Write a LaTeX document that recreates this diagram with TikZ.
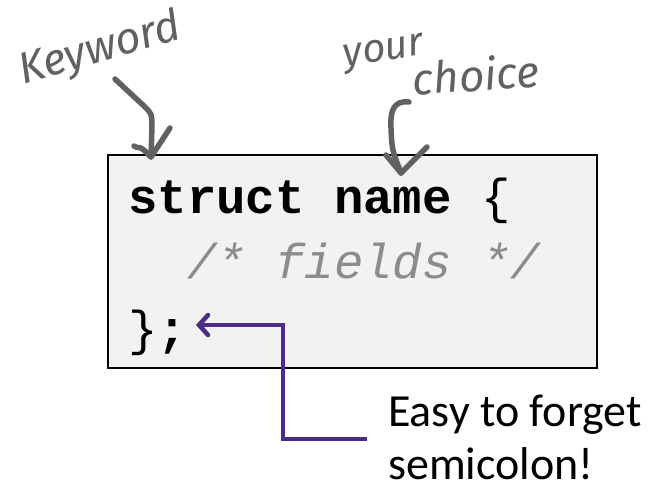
\documentclass[tikz,border=0pt]{standalone}
\usepackage{fontspec}
\setmainfont{Carlito}
\newfontfamily\codefont{Liberation Mono}
\newfontfamily\handfont{Fira Sans}
\usetikzlibrary{arrows.meta}
\definecolor{boxfill}{HTML}{F2F2F2}
\definecolor{inkgray}{HTML}{616161}
\definecolor{uwpurple}{HTML}{4B2E83}
\definecolor{commentgray}{HTML}{8C8C8C}
\tikzset{
  codebox/.style={draw=black, line width=2pt, fill=boxfill, inner sep=0pt},
  codeline/.style={anchor=base west, inner sep=0pt, font=\codefont\fontsize{49}{55}\selectfont},
  notetext/.style={anchor=base west, inner sep=0pt, font=\fontsize{46}{55}\selectfont},
  handtext/.style={inner sep=0pt, text=inkgray, font=\handfont\itshape\fontsize{44}{46}\selectfont},
  inkstroke/.style={draw=inkgray, line width=5.5pt, line cap=round, line join=round},
  callout/.style={draw=uwpurple, line width=4.5pt, line join=miter,
    -{Straight Barb[length=9pt,width=20pt,line cap=round]}}
}
\begin{document}
\begin{tikzpicture}[x=1pt, y=-1pt]
  \useasboundingbox (0,0) rectangle (667,490);

  % the struct skeleton
  \node[codebox, minimum width=489pt, minimum height=213pt] (box) at (352.5,261.5) {};
  \node[codeline] (l1) at (128,213) {\textbf{struct name} \{};
  \node[codeline, text=commentgray] (l2) at (128,278) {\ \ \textit{/* fields */}};
  \node[codeline] (l3) at (128,345) {\}\textbf{;}};

  % handwritten remarks
  \node[handtext, rotate=16] (kw) at (100,50) {Keyword};
  \node[handtext, rotate=8, font=\handfont\itshape\fontsize{40}{42}\selectfont] (yc1) at (384,54) {your};
  \node[handtext, rotate=4] (yc2) at (476,74) {choice};

  % ink arrow from "Keyword"
  \coordinate (k0) at (115,79);
  \coordinate (k1) at (151,157);
  \draw[inkstroke] (k0) -- (144,106) .. controls (152,114) .. (152,126) -- (k1);
  \draw[inkstroke] (134,146) .. controls (140,150) and (138,143) .. (k1) -- (170,128);

  % ink arrow from "your choice"
  \coordinate (c0) at (409,102);
  \coordinate (c1) at (401,173);
  \draw[inkstroke] (c0) .. controls (393,100) and (390,112) .. (391,128) .. controls (392,150) .. (c1);
  \draw[inkstroke] (386,155) -- (c1) -- (427,147);

  % purple callout to the semicolon
  \node[notetext] (n1) at (388,426) {Easy to forget};
  \node[notetext] (n2) at (388,479) {semicolon!};
  \coordinate (tail) at ([xshift=-21pt, yshift=-13pt]n1.base west);
  \coordinate (tip) at (196,325);
  \coordinate (bend) at (283,325);
  \draw[callout] (tail) -| (bend) -- (tip);
\end{tikzpicture}
\end{document}
